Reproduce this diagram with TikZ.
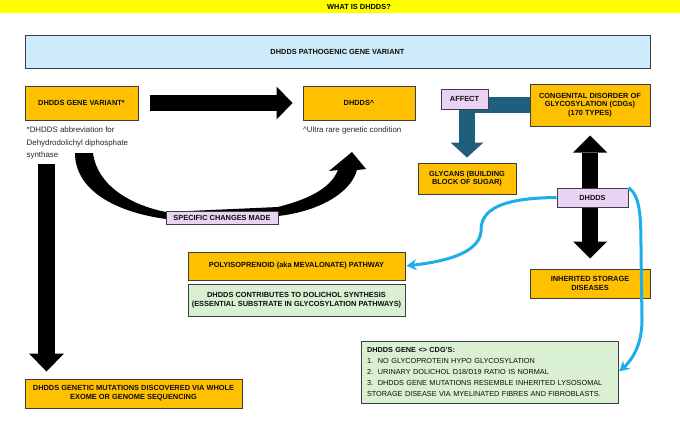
\documentclass[tikz,border=0pt]{standalone}
\usepackage{fontspec}
\setmainfont{Liberation Sans}
\usetikzlibrary{arrows.meta,positioning}

\definecolor{boxorange}{HTML}{FFC000}
\definecolor{boxblue}{HTML}{CDEBFA}
\definecolor{boxpink}{HTML}{EAD3F2}
\definecolor{boxgreen}{HTML}{DAF0D3}
\definecolor{edge}{HTML}{3B3F45}
\definecolor{affectblue}{HTML}{1F5E7D}
\definecolor{linkblue}{HTML}{1CAEE8}
\definecolor{titleyellow}{HTML}{FFFF00}

\begin{document}
\begin{tikzpicture}[x=1pt, y=-1pt]

% orange box style
\tikzstyle{ob} = [
    draw=edge,
    line width=1pt,
    fill=boxorange,
    rectangle,
    align=center,
    inner sep=0pt,
    text=black!95,
    font=\fontsize{7.4}{8.8}\selectfont\bfseries
]

% pink tag style
\tikzstyle{pk} = [ob, fill=boxpink]

% green box style
\tikzstyle{gb} = [ob, fill=boxgreen]

% note style
\tikzstyle{nt} = [
    anchor=north west,
    align=left,
    inner sep=0pt,
    text=black!85,
    font=\fontsize{7.9}{12.7}\selectfont
]

% block arrow heads
\tikzstyle{fat} = [
    line width=16pt,
    -{Triangle[length=16pt 0 0, width=33pt 0 0, line width=0pt 0 0]}
]

\useasboundingbox (0,0) rectangle (680,429);

% Title bar.
\fill [titleyellow] (0,0) rectangle (680,13);
\node [font=\fontsize{7.4}{8.8}\selectfont\bfseries] (title) at (359,6.5) {WHAT IS DHDDS?};

% Place the nodes.
\node [ob, fill=boxblue, minimum width=625pt, minimum height=33pt] (head) at (337.5,51.5) {DHDDS PATHOGENIC GENE VARIANT};

\node [ob, minimum width=113pt, minimum height=34pt] (gv) at (81.5,103) {DHDDS GENE VARIANT*};
\node [nt] (gv-note) at (26.5,126.5) {*DHDDS abbreviation for\\Dehydrodolichyl diphosphate\\synthase};

\node [ob, minimum width=112pt, minimum height=34pt] (dhdds) at (359,103) {DHDDS\textasciicircum};
\node [nt] (dhdds-note) at (303,126.5) {\textasciicircum Ultra rare genetic condition};

\node [ob, minimum width=120pt, minimum height=42pt] (cdg) at (590,105) {CONGENITAL DISORDER OF\\GLYCOSYLATION (CDGs)\\(170 TYPES)};
\node [ob, minimum width=98pt, minimum height=31pt] (glyc) at (467,178.5) {GLYCANS (BUILDING\\BLOCK OF SUGAR)};
\node [ob, minimum width=120pt, minimum height=29pt] (inh) at (590,283.5) {INHERITED STORAGE\\DISEASES};

\node [ob, minimum width=217pt, minimum height=28pt] (poly) at (296.5,266) {POLYISOPRENOID (aka MEVALONATE) PATHWAY};
\node [gb, minimum width=217pt, minimum height=32pt] (dol) at (296.5,300) {DHDDS CONTRIBUTES TO DOLICHOL SYNTHESIS\\(ESSENTIAL SUBSTRATE IN GLYCOSYLATION PATHWAYS)};

\node [ob, minimum width=217pt, minimum height=29pt] (mut) at (133.5,393.5) {DHDDS GENETIC MUTATIONS DISCOVERED VIA WHOLE\\EXOME OR GENOME SEQUENCING};

\node [gb, minimum width=257pt, minimum height=62pt, text width=245pt, align=left,
       font=\fontsize{7.3}{10.9}\selectfont] (cdgs) at (489.5,372)
    {\textbf{DHDDS GENE <> CDG'S:}\\
     1.\ \ NO GLYCOPROTEIN HYPO GLYCOSYLATION\\
     2.\ \ URINARY DOLICHOL D18/D19 RATIO IS NORMAL\\
     3.\ \ DHDDS GENE MUTATIONS RESEMBLE INHERITED LYSOSOMAL\\
     STORAGE DISEASE VIA MYELINATED FIBRES AND FIBROBLASTS.};

% Connect the nodes.
\draw [fat, shorten <=11pt, shorten >=10pt] (gv) -- (dhdds);

\coordinate (drop) at (46.5,164);
\draw [line width=17pt, -{Triangle[length=18pt 0 0, width=35pt 0 0, line width=0pt 0 0]}, shorten >=7pt] (drop) -- (drop |- mut.north);

\draw [line width=16pt,
       {Triangle[length=17pt 0 0, width=34pt 0 0, line width=0pt 0 0]}-{Triangle[length=17pt 0 0, width=34pt 0 0, line width=0pt 0 0]},
       shorten <=9pt, shorten >=10pt] (cdg) -- (inh);

\draw [fat, affectblue, -{Triangle[length=15pt 0 0, width=33pt 0 0, line width=0pt 0 0]}, shorten >=5pt] (cdg.west) -| (glyc.north);
\node [pk, minimum width=47pt, minimum height=20pt] (affect) at (464.5,99) {AFFECT};

% tapered arrow, gene variant to DHDDS
\fill (75,153) -- (93,153) .. controls (97,185) and (130,205) .. (166,212)
    -- (278,207) .. controls (305,200) and (330,190) .. (338,170)
    -- (329,171) -- (352,152) -- (366,169) -- (357,170)
    .. controls (350,195) and (315,212) .. (278,216)
    -- (166,219) .. controls (115,212) and (75,190) .. (75,153) -- cycle;
\node [pk, minimum width=112pt, minimum height=13pt] (changes) at (222,217.5) {SPECIFIC CHANGES MADE};

\node [pk, minimum width=71pt, minimum height=19pt] (hub) at (592.5,197.5) {DHDDS};

\draw [linkblue, line width=3pt, -{Stealth[length=10pt 0 0, width=11pt 0 0]}, shorten >=1pt]
    (hub.west) .. controls (500,198) and (480,210) .. (481,232)
    .. controls (478,255) and (440,262) .. (poly.east);
\draw [linkblue, line width=3pt, -{Stealth[length=10pt 0 0, width=11pt 0 0]}, shorten >=1pt]
    (hub.north east) .. controls (640,196) and (641,215) .. (641,250)
    -- (642,320) .. controls (642,345) and (632,360) .. (cdgs.east);

\end{tikzpicture}
\end{document}
